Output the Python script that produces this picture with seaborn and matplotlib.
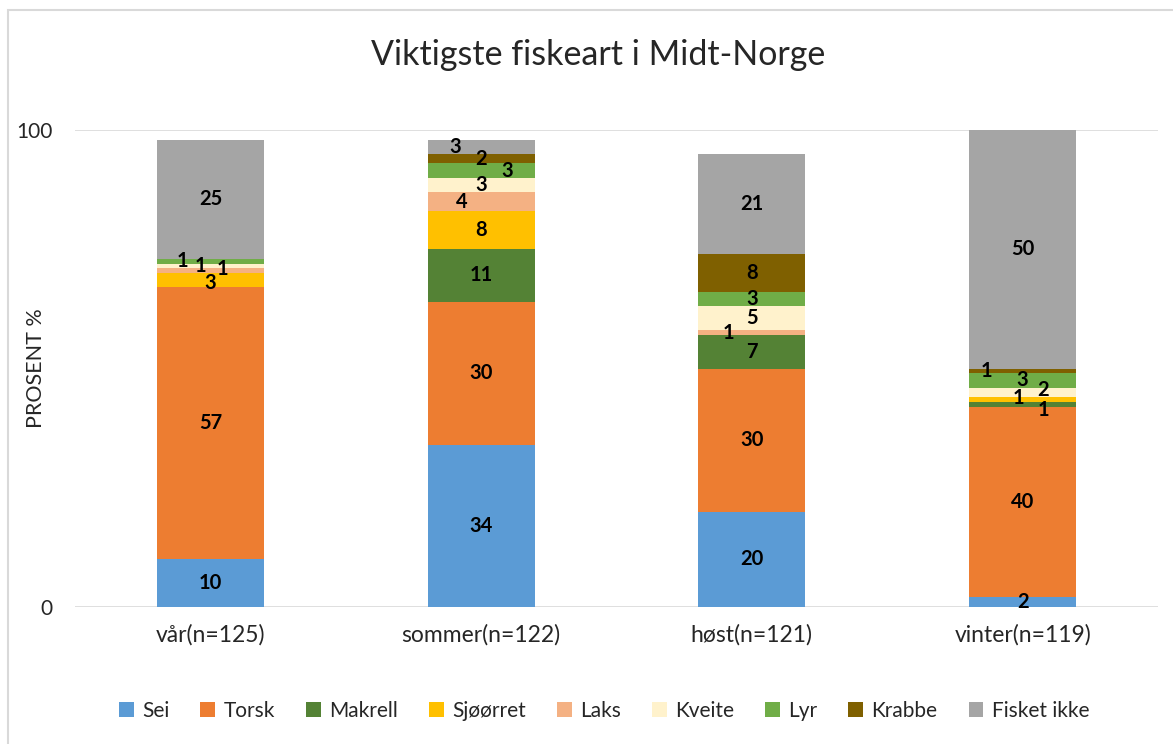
import numpy as np
import pandas as pd
import matplotlib
matplotlib.use("Agg")
import matplotlib.pyplot as plt
import seaborn as sns
from matplotlib.patches import Rectangle, Patch

# data
sesonger = ['vår(n=125)', 'sommer(n=122)', 'høst(n=121)', 'vinter(n=119)']
arter = ['Sei', 'Torsk', 'Makrell', 'Sjøørret', 'Laks', 'Kveite', 'Lyr', 'Krabbe', 'Fisket ikke']
sei = [10, 34, 20, 2]
torsk = [57, 30, 30, 40]
makrell = [0, 11, 7, 1]
sjoorret = [3, 8, 0, 1]
laks = [1, 4, 1, 0]
kveite = [1, 3, 5, 2]
lyr = [1, 3, 3, 3]
krabbe = [0, 2, 8, 1]
fisket_ikke = [25, 3, 21, 50]

farger = ['#5B9BD5', '#ED7D31', '#548235', '#FFC000', '#F4B183',
          '#FFF2CC', '#70AD47', '#7F6000', '#A5A5A5']

verdier = np.array([sei, torsk, makrell, sjoorret, laks, kveite, lyr, krabbe, fisket_ikke], dtype=float)
kum = verdier.cumsum(axis=0)

# label nudges (points) for the tiny segments
flytt = {
    (0, 6): -20, (0, 5): -7, (0, 4): 9,
    (1, 8): -19, (1, 6): 19, (1, 4): -14,
    (2, 4): -17,
    (3, 7): -26, (3, 5): 15, (3, 3): -3, (3, 2): 15,
}
flytt_y = {(0, 4): 1, (0, 3): -2, (3, 2): -4, (3, 3): 1, (3, 5): 2}

sns.set_theme(style="white")
plt.rcParams['font.family'] = ['Lato', 'DejaVu Sans']

fig = plt.figure(figsize=(11.73, 7.44), dpi=100)
ax = fig.add_axes([75 / 1173, 137 / 744, (1158 - 75) / 1173, (607 - 130) / 744])

# draw cumulative layers from the top down, each one covering the ones below
for i in range(len(arter) - 1, -1, -1):
    df = pd.DataFrame({'sesong': sesonger, 'verdi': kum[i]})
    sns.barplot(data=df, x='sesong', y='verdi', color=farger[i], width=0.395,
                saturation=1, ax=ax, linewidth=0, zorder=2)

for j in range(len(sesonger)):
    for i in range(len(arter)):
        v = verdier[i, j]
        if v <= 0:
            continue
        midt = kum[i, j] - v / 2
        dx = flytt.get((j, i), 0)
        dy = flytt_y.get((j, i), 0)
        ax.annotate(f'{int(v)}', (j, midt), xytext=(dx, dy), textcoords='offset points',
                    ha='center', va='center', fontsize=14.5, fontweight='bold',
                    color='black', zorder=5)

ax.set_ylim(0, 100)
ax.set_yticks([0, 100])
ax.yaxis.grid(True, color='#D9D9D9', linewidth=1.2, zorder=0)
ax.set_axisbelow(True)
for s in ax.spines.values():
    s.set_visible(False)
ax.tick_params(axis='x', length=0, pad=12, labelsize=16.5, labelcolor='#262626')
ax.tick_params(axis='y', length=0, pad=16, labelsize=15, labelcolor='#262626')
ax.set_xlabel('')
ax.set_ylabel('PROSENT %', fontsize=15.5, color='#262626')
ax.yaxis.set_label_coords(-0.027, 0.5)

fig.text(598 / 1173, 1 - 55 / 744, 'Viktigste fiskeart i Midt-Norge', ha='center', va='center',
         fontsize=24.5, color='#262626')

handles = [Patch(facecolor=farger[i], edgecolor='none', label=arter[i]) for i in range(len(arter))]
fig.legend(handles=handles, loc='center', bbox_to_anchor=(604 / 1173, 1 - 711 / 744), ncol=9,
           frameon=False, fontsize=15, handlelength=0.7, handleheight=0.7,
           handletextpad=0.4, columnspacing=1.5, labelcolor='#262626')

# chart frame
fig.patches.append(Rectangle((8 / 1173, -0.05), 1.1, 1 - 10 / 744 + 0.05, transform=fig.transFigure,
                             fill=False, edgecolor='#D9D9D9', linewidth=1.5))

fig.savefig('out.png', dpi=100)
